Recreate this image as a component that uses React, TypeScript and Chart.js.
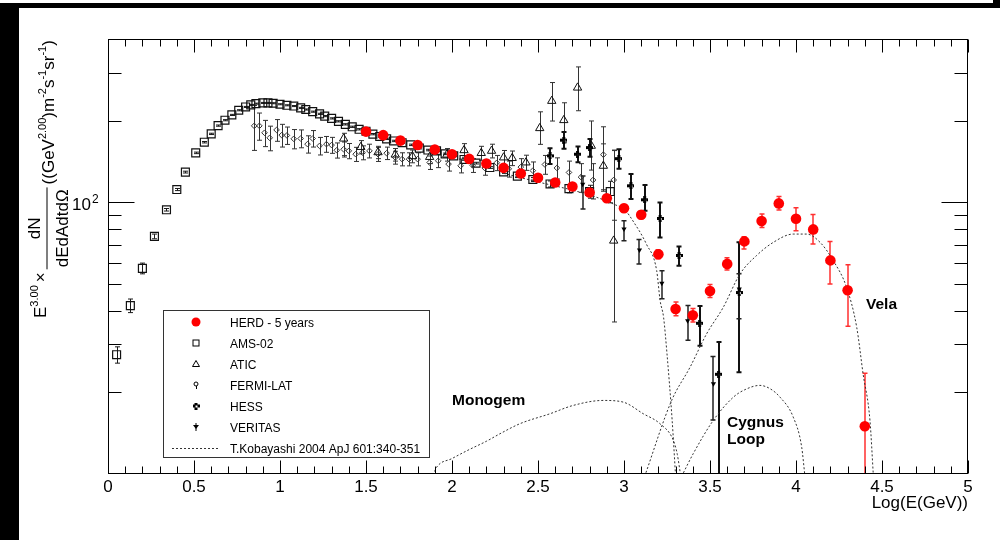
import React, { useEffect, useRef } from "react";
import { Chart, registerables } from "chart.js";

Chart.register(...registerables);

const FONT = '"Liberation Sans", Arial, Helvetica, sans-serif';

// ---------------- data ----------------
const herdX = [1.5, 1.6, 1.7, 1.8, 1.9, 2.0, 2.1, 2.2, 2.3, 2.4, 2.5, 2.6, 2.7, 2.8, 2.9, 3.0, 3.1, 3.2, 3.3, 3.4, 3.5, 3.6, 3.7, 3.8, 3.9, 4.0, 4.1, 4.2, 4.3, 4.4];
const herdY = [182.4, 177.0, 169.0, 162.9, 156.6, 150.6, 144.7, 139.1, 134.1, 127.8, 123.3, 118.4, 114.5, 108.8, 103.6, 95.2, 90.1, 64.5, 40.5, 38.4, 47.2, 59.4, 71.9, 85.4, 99.2, 87.1, 79.6, 61.2, 47.5, 15.0];
const herdErrUp = [2, 2, 2, 2, 2, 2, 2, 2, 2, 2, 2, 2, 2, 2.5, 2.5, 3, 3, 2.5, 2.5, 2.3, 2.7, 3.2, 2.9, 5.2, 6.0, 8.5, 10.7, 10.7, 11.5, 8.5];
const herdErrDown = [2, 2, 2, 2, 2, 2, 2, 2, 2, 2, 2, 2, 2, 2.5, 2.5, 3, 3, 2.5, 2.2, 2.1, 2.5, 3.0, 4.5, 4.5, 5.4, 8.4, 9.3, 11.1, 12.5, 6];

const amsX = [0.05, 0.13, 0.2, 0.27, 0.34, 0.4, 0.45, 0.51, 0.56, 0.6, 0.64, 0.68, 0.72, 0.76, 0.8, 0.83, 0.86, 0.9, 0.93, 0.96, 1.0, 1.04, 1.08, 1.12, 1.15, 1.19, 1.23, 1.26, 1.3, 1.34, 1.38, 1.42, 1.46, 1.5, 1.54, 1.58, 1.62, 1.66, 1.71, 1.76, 1.81, 1.86, 1.91, 1.96, 2.01, 2.07, 2.14, 2.22, 2.3, 2.38, 2.47, 2.57, 2.68, 2.8, 2.92];
const amsY = [27.5, 41.7, 57.2, 75.0, 94.0, 111.6, 129.4, 152.3, 166.7, 178.9, 191.9, 200.9, 210.1, 218.6, 224.8, 228.7, 231.2, 232.6, 232.6, 232.0, 230.0, 228.0, 226.5, 223, 220, 216, 212, 208, 204, 199, 194, 190, 186, 183, 178.5, 175, 171.5, 168.5, 166, 163, 158.5, 156, 154.9, 151, 148.5, 144, 139.6, 134.5, 129.5, 125, 121.5, 117, 112.5, 109.7, 109.7];
const amsErr = [1.9, 2.4, 2.6, 1.5, 1, 1, 1, 1, 1, 1, 1, 1, 1, 1, 1, 1, 1, 1, 1, 1, 1, 1, 1, 1, 1, 1, 1, 1, 1, 1, 1, 1, 1, 1, 1, 1, 1, 1, 1, 1, 1, 1, 1, 1, 1, 1, 1, 1, 1.5, 1.5, 2, 3, 4, 6, 10];

const aticX = [1.37, 1.47, 1.57, 1.67, 1.77, 1.87, 1.97, 2.07, 2.17, 2.23, 2.3, 2.35, 2.43, 2.51, 2.58, 2.65, 2.73, 2.81, 2.88, 2.94];
const aticY = [171.8, 160, 153, 150, 148, 147, 150, 155.7, 152, 154.9, 146.4, 145.7, 140.3, 187.7, 236.5, 200.9, 264.7, 161.6, 136.4, 72.3];
const aticErrUp = [8, 9, 8, 8, 8, 8, 8, 9, 9, 9, 9, 9, 9, 28, 40, 32, 51, 38, 28, 83];
const aticErrDown = [23, 9, 8, 8, 8, 8, 8, 9, 9, 9, 9, 9, 9, 24, 37, 35, 47, 30, 25, 36];

const fermiX = [0.85, 0.88, 0.91, 0.94, 0.98, 1.01, 1.04, 1.08, 1.12, 1.16, 1.19, 1.23, 1.27, 1.3, 1.33, 1.37, 1.4, 1.44, 1.48, 1.52, 1.57, 1.62, 1.67, 1.71, 1.75, 1.8, 1.87, 1.92, 1.98, 2.05, 2.12, 2.19, 2.26, 2.33, 2.4, 2.47, 2.54, 2.61, 2.68, 2.75, 2.82, 2.88, 2.94];
const fermiY = [191.5, 191.5, 180.6, 173, 185, 177, 176.6, 171.6, 172, 164, 172, 161.6, 164, 162.7, 155.7, 157, 154.9, 150.6, 152.6, 154.9, 150.6, 151.9, 146.4, 144.4, 144.4, 144.4, 140.3, 142.4, 138.5, 136.5, 137, 134, 140, 133, 135, 131, 138, 134, 129, 124, 121, 150, 121];
const fermiErr = [36, 22, 20, 18, 17, 17, 13, 14, 13, 12, 12, 12, 11, 11, 10, 10, 10, 9, 9, 9, 9, 8, 8, 8, 8, 8, 8, 8, 8, 8, 8, 8, 9, 9, 10, 10, 11, 12, 13, 15, 18, 40, 35];

const hessX = [2.57, 2.65, 2.73, 2.8, 2.97, 3.04, 3.12, 3.21, 3.32, 3.44, 3.55, 3.67];
const hessY = [148.5, 169.6, 150.6, 159.3, 145, 115.2, 102.3, 87.3, 63.8, 35.9, 23.3, 46.6];
const hessErrUp = [10, 12, 10, 12, 12, 12, 13.6, 12.7, 5.1, 5.7, 7.3, 24.7];
const hessErrDown = [10, 12, 10, 12, 12, 12.3, 9.1, 13, 5.3, 6.2, 13.3, 22.9];

const veritasX = [2.76, 3.0, 3.09, 3.22, 3.37, 3.52, 3.67];
const veritasY = [116.8, 79.8, 66.8, 50.4, 36.7, 21.5, 48.0];
const veritasErrUp = [8.5, 5.8, 6.2, 5.6, 5.0, 5.6, 6.6];
const veritasErrDown = [22.2, 7.5, 7.5, 6.2, 5.6, 5.7, 10.7];

// T.Kobayashi 2004 model curves
const monogemX = [1.89, 1.911, 2.0, 2.1, 2.2, 2.279, 2.395, 2.57, 2.705, 2.879, 2.995, 3.112, 3.209, 3.287, 3.31, 3.33];
const monogemY = [9.9, 10.6, 11.4, 12.3, 13.2, 14.07, 15.32, 16.67, 17.89, 18.66, 18.4, 16.67, 15.32, 13.3, 11.8, 9.8];
const cygnusX = [3.335, 3.403, 3.519, 3.636, 3.7, 3.79, 3.85, 3.907, 3.984, 4.033, 4.052];
const cygnusY = [9.8, 11.9, 15.75, 19.19, 20.4, 21.2, 20.6, 19.19, 16.2, 12.57, 9.8];
const velaX = [3.12, 3.277, 3.384, 3.48, 3.577, 3.674, 3.77, 3.868, 3.984, 4.062, 4.14, 4.217, 4.294, 4.353, 4.39, 4.43, 4.45];
const velaY = [9.8, 18.66, 24.73, 32.8, 41.1, 54.5, 63.7, 71.3, 76.5, 76.5, 71.3, 61.0, 48.7, 34.7, 23.4, 15.75, 9.8];
const backgroundX = [2.3, 2.5, 2.7, 2.85, 2.95, 3.0, 3.06, 3.13, 3.19, 3.21, 3.23, 3.25, 3.28, 3.3];
const backgroundY = [128, 119, 111, 104, 98, 94.6, 84, 70.3, 56.1, 43.5, 37.8, 27.7, 15.75, 9.8];

// axes
const X_MIN = 0, X_MAX = 5, Y_MIN = 10, Y_MAX = 400;
const xMajorTicks = [0, 0.5, 1, 1.5, 2, 2.5, 3, 3.5, 4, 4.5, 5];
const xTickLabels = ["0", "0.5", "1", "1.5", "2", "2.5", "3", "3.5", "4", "4.5", "5"];
const yMinorTicks = [20, 30, 40, 50, 60, 70, 80, 90, 200, 300];
const yMajorTicks = [100];
const yTickBase = ["10"];
const yTickExp = ["2"];
const xTitle = "Log(E(GeV))";

const legendLabels = ["HERD - 5 years", "AMS-02", "ATIC", "FERMI-LAT", "HESS", "VERITAS", "T.Kobayashi 2004 ApJ 601:340-351"];
const annotations = [
  { text: "Monogem", x: 452, y: 405 },
  { text: "Cygnus", x: 727, y: 427 },
  { text: "Loop", x: 727, y: 444 },
  { text: "Vela", x: 866, y: 309 },
];

const RED = "#ff0000";
const DARK = "#1a1a1a";
const CURVE = "#333333";

function pts(xs: number[], ys: number[]) {
  return xs.map((x, i) => ({ x, y: ys[i] }));
}

function makeCross(size: number, arm: number, color: string) {
  const c = document.createElement("canvas");
  c.width = size;
  c.height = size;
  const g = c.getContext("2d")!;
  g.fillStyle = color;
  const o = (size - arm) / 2;
  g.fillRect(o, 0, arm, size);
  g.fillRect(0, o, size, arm);
  g.clearRect(o + 0.5, o + 0.5, arm - 1, arm - 1);
  return c;
}

const errorSets = [
  { x: amsX, y: amsY, up: amsErr, down: amsErr, color: DARK, width: 1 },
  { x: fermiX, y: fermiY, up: fermiErr, down: fermiErr, color: "#333", width: 1 },
  { x: aticX, y: aticY, up: aticErrUp, down: aticErrDown, color: "#333", width: 1 },
  { x: hessX, y: hessY, up: hessErrUp, down: hessErrDown, color: "#111", width: 2 },
  { x: veritasX, y: veritasY, up: veritasErrUp, down: veritasErrDown, color: "#222", width: 1.5 },
  { x: herdX, y: herdY, up: herdErrUp, down: herdErrDown, color: "#ff3030", width: 1.5 },
];

const errorBarPlugin = {
  id: "errorBars",
  beforeDatasetsDraw(chart: any) {
    const { ctx, chartArea: a, scales } = chart;
    const xs = scales.x, ys = scales.y;
    ctx.save();
    ctx.beginPath();
    ctx.rect(a.left, a.top, a.right - a.left, a.bottom - a.top);
    ctx.clip();
    for (const s of errorSets) {
      ctx.strokeStyle = s.color;
      ctx.lineWidth = s.width;
      s.x.forEach((xv: number, i: number) => {
        const up = s.up[i], dn = s.down[i];
        const px = Math.round(xs.getPixelForValue(xv)) + (s.width % 2 === 1 ? 0.5 : 0);
        const top = ys.getPixelForValue(s.y[i] + up);
        const low = s.y[i] - dn;
        const bot = low > 0 ? ys.getPixelForValue(low) : a.bottom + 5;
        ctx.beginPath();
        ctx.moveTo(px, top);
        ctx.lineTo(px, bot);
        ctx.moveTo(px - 2.5, top);
        ctx.lineTo(px + 2.5, top);
        ctx.moveTo(px - 2.5, bot);
        ctx.lineTo(px + 2.5, bot);
        ctx.stroke();
      });
    }
    ctx.restore();
  },
};

function drawYTitle(ctx: CanvasRenderingContext2D) {
  ctx.save();
  ctx.translate(46, 318);
  ctx.rotate(-Math.PI / 2);
  ctx.fillStyle = "#000";
  ctx.textBaseline = "alphabetic";
  ctx.textAlign = "left";
  const main = 17, sup = 11;
  let u = 0;
  const put = (t: string, size: number, dy: number) => {
    ctx.font = `${size}px ${FONT}`;
    ctx.fillText(t, u, dy);
    u += ctx.measureText(t).width;
  };
  put("E", main, 0);
  put("3.00", sup, -8);
  u += 3;
  put("×", main, 0);
  u += 3;
  ctx.font = `${main}px ${FONT}`;
  const num = "dN", den = "dEdAdtdΩ";
  const wn = ctx.measureText(num).width, wd = ctx.measureText(den).width;
  const w = Math.max(wn, wd) + 4;
  ctx.fillText(num, u + (w - wn) / 2, -6);
  ctx.fillText(den, u + (w - wd) / 2, 22);
  ctx.fillRect(u, 0.5, w, 1);
  u += w + 3;
  const b = 8;
  put("((GeV", main, b);
  put("2.00", sup, b - 8);
  put(")m", main, b);
  put("-2", sup, b - 8);
  put("s", main, b);
  put("-1", sup, b - 8);
  put("sr", main, b);
  put("-1", sup, b - 8);
  put(")", main, b);
  ctx.restore();
}

function drawLegendMarker(ctx: CanvasRenderingContext2D, i: number, x: number, y: number, cross: HTMLCanvasElement) {
  ctx.save();
  ctx.lineWidth = 1;
  ctx.strokeStyle = "#000";
  ctx.fillStyle = "#000";
  if (i === 0) {
    ctx.fillStyle = RED;
    ctx.beginPath();
    ctx.arc(x, y, 4.5, 0, Math.PI * 2);
    ctx.fill();
  } else if (i === 1) {
    ctx.strokeRect(x - 3, y - 3, 6, 6);
  } else if (i === 2) {
    ctx.beginPath();
    ctx.moveTo(x, y - 3.5);
    ctx.lineTo(x + 3.5, y + 2.5);
    ctx.lineTo(x - 3.5, y + 2.5);
    ctx.closePath();
    ctx.stroke();
  } else if (i === 3) {
    ctx.beginPath();
    ctx.arc(x, y - 1, 2, 0, Math.PI * 2);
    ctx.stroke();
    ctx.beginPath();
    ctx.moveTo(x + 0.5, y + 1);
    ctx.lineTo(x + 0.5, y + 4);
    ctx.stroke();
  } else if (i === 4) {
    ctx.drawImage(cross, x - 3.5, y - 3.5, 7, 7);
  } else if (i === 5) {
    ctx.beginPath();
    ctx.moveTo(x - 3, y - 2);
    ctx.lineTo(x + 3, y - 2);
    ctx.lineTo(x, y + 2);
    ctx.closePath();
    ctx.fill();
    ctx.fillRect(x - 0.5, y - 4, 1, 8);
  } else {
    ctx.strokeStyle = CURVE;
    ctx.setLineDash([2, 2]);
    ctx.beginPath();
    ctx.moveTo(172, y + 0.5);
    ctx.lineTo(218, y + 0.5);
    ctx.stroke();
  }
  ctx.restore();
}

function makeFramePlugin(cross: HTMLCanvasElement) {
  return {
    id: "rootFrame",
    beforeDraw(chart: any) {
      const ctx = chart.ctx;
      ctx.save();
      ctx.fillStyle = "#fff";
      ctx.fillRect(0, 0, chart.width, chart.height);
      ctx.restore();
    },
    afterDraw(chart: any) {
      const { ctx, chartArea: a, scales } = chart;
      const xs = scales.x, ys = scales.y;
      const L = Math.round(a.left) + 0.5, R = Math.round(a.right) - 0.5;
      const T = Math.round(a.top) + 0.5, B = Math.round(a.bottom) - 0.5;
      ctx.save();
      ctx.strokeStyle = "#000";
      ctx.lineWidth = 1;
      ctx.strokeRect(L, T, R - L, B - T);
      ctx.beginPath();
      for (let k = 0; k <= 50; k++) {
        const v = X_MIN + k * 0.1;
        const px = Math.round(xs.getPixelForValue(v)) + 0.5;
        const major = k % 5 === 0;
        const len = major ? 13 : 7;
        ctx.moveTo(px, B);
        ctx.lineTo(px, B - len);
        ctx.moveTo(px, T);
        ctx.lineTo(px, T + len);
      }
      for (const v of yMinorTicks) {
        const py = Math.round(ys.getPixelForValue(v)) + 0.5;
        ctx.moveTo(L, py);
        ctx.lineTo(L + 13, py);
        ctx.moveTo(R, py);
        ctx.lineTo(R - 13, py);
      }
      for (const v of yMajorTicks) {
        const py = Math.round(ys.getPixelForValue(v)) + 0.5;
        ctx.moveTo(L, py);
        ctx.lineTo(L + 26, py);
        ctx.moveTo(R, py);
        ctx.lineTo(R - 26, py);
      }
      ctx.stroke();

      ctx.fillStyle = "#000";
      ctx.font = `17px ${FONT}`;
      ctx.textAlign = "center";
      ctx.textBaseline = "alphabetic";
      xMajorTicks.forEach((v, i) => {
        ctx.fillText(xTickLabels[i], xs.getPixelForValue(v), 492);
      });
      yMajorTicks.forEach((v, i) => {
        const py = ys.getPixelForValue(v);
        ctx.font = `17px ${FONT}`;
        ctx.textAlign = "right";
        ctx.fillText(yTickBase[i], 91, py + 8);
        ctx.font = `12px ${FONT}`;
        ctx.textAlign = "left";
        ctx.fillText(yTickExp[i], 92, py + 1);
      });
      ctx.font = `17px ${FONT}`;
      ctx.textAlign = "right";
      ctx.fillText(xTitle, a.right, 508);
      drawYTitle(ctx);

      ctx.font = `bold 15.5px ${FONT}`;
      ctx.textAlign = "left";
      for (const an of annotations) ctx.fillText(an.text, an.x, an.y);

      ctx.fillStyle = "#fff";
      ctx.fillRect(163, 310, 267, 147);
      ctx.strokeStyle = "#333";
      ctx.strokeRect(163.5, 310.5, 266, 147);
      legendLabels.forEach((lab, i) => {
        const cy = 322 + i * 21;
        drawLegendMarker(ctx, i, 196, cy, cross);
        ctx.fillStyle = "#000";
        ctx.font = `12px ${FONT}`;
        ctx.textAlign = "left";
        ctx.fillText(lab, 230, cy + 4.5);
      });

      ctx.fillStyle = "#000";
      ctx.fillRect(0, 3, 1000, 5);
      ctx.fillRect(0, 3, 19, 537);
      ctx.fillRect(993, 0, 7, 8);
      ctx.restore();
    },
  };
}

export default function App() {
  const ref = useRef<HTMLCanvasElement | null>(null);
  useEffect(() => {
    if (!ref.current) return;
    const cross = makeCross(7, 3, "#000");
    const curve = (xs: number[], ys: number[]) => ({
      label: "curve",
      data: pts(xs, ys),
      showLine: true,
      pointRadius: 0,
      borderColor: CURVE,
      borderWidth: 1,
      borderDash: [2, 2],
      cubicInterpolationMode: "monotone" as const,
      fill: false,
    });
    const chart = new Chart(ref.current, {
      type: "scatter",
      data: {
        datasets: [
          { label: legendLabels[0], data: pts(herdX, herdY), pointStyle: "circle", pointRadius: 5.3, backgroundColor: RED, borderColor: RED, borderWidth: 0 },
          { label: legendLabels[5], data: pts(veritasX, veritasY), pointStyle: "triangle", pointRotation: 180, pointRadius: 3, backgroundColor: "#000", borderColor: "#000", borderWidth: 0 },
          { label: legendLabels[4], data: pts(hessX, hessY), pointStyle: cross as any, pointRadius: 3.5 },
          { label: legendLabels[2], data: pts(aticX, aticY), pointStyle: "triangle", pointRadius: 4.8, backgroundColor: "rgba(255,255,255,0)", borderColor: "#111", borderWidth: 1 },
          { label: legendLabels[3], data: pts(fermiX, fermiY), pointStyle: "rectRot", pointRadius: 2.8, backgroundColor: "rgba(255,255,255,0)", borderColor: "#333", borderWidth: 1 },
          { label: legendLabels[1], data: pts(amsX, amsY), pointStyle: "rect", pointRadius: 5.6, backgroundColor: "rgba(255,255,255,0)", borderColor: "#111", borderWidth: 1.2 },
          curve(monogemX, monogemY),
          curve(cygnusX, cygnusY),
          curve(velaX, velaY),
          curve(backgroundX, backgroundY),
        ],
      },
      options: {
        responsive: false,
        animation: false,
        events: [],
        layout: { padding: { left: 108, right: 32, top: 39, bottom: 66 } },
        plugins: { legend: { display: false }, tooltip: { enabled: false } },
        scales: {
          x: { type: "linear", min: X_MIN, max: X_MAX, display: false },
          y: { type: "logarithmic", min: Y_MIN, max: Y_MAX, display: false },
        },
      },
      plugins: [makeFramePlugin(cross), errorBarPlugin],
    });
    return () => chart.destroy();
  }, []);
  return (
    <div style={{ position: "absolute", left: 0, top: 0, width: 1000, height: 540, background: "#fff" }}>
      <canvas ref={ref} width={1000} height={540} style={{ display: "block", width: 1000, height: 540 }} />
    </div>
  );
}
